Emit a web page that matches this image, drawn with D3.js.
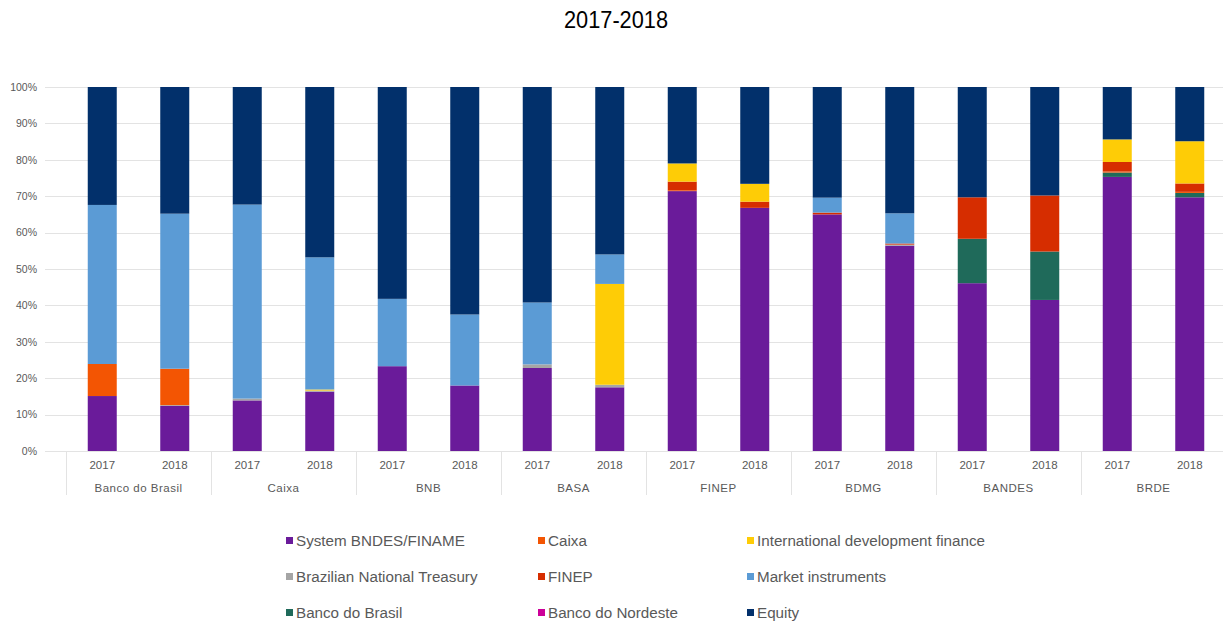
<!DOCTYPE html>
<html>
<head>
<meta charset="utf-8">
<script src="https://cdn.jsdelivr.net/npm/d3@7"></script>
<style>
  html, body { margin: 0; padding: 0; background: #fff; }
  svg { display: block; font-family: "Liberation Sans", Arial, sans-serif; }
</style>
</head>
<body>
<svg id="chart" width="1223" height="623"></svg>
<script>
// ---------- DATA ----------
const groups = ["Banco do Brasil", "Caixa", "BNB", "BASA", "FINEP", "BDMG", "BANDES", "BRDE"];
const years = ["2017", "2018"];
const yTicks = [0, 10, 20, 30, 40, 50, 60, 70, 80, 90, 100];

// values in %, ordered: group by group, 2017 then 2018
const systemBNDES = [15.1, 12.4, 13.9, 16.3, 23.3, 18.0, 22.8, 17.5, 71.4, 66.8, 65.0, 56.4, 46.1, 41.5, 75.3, 69.7];
const treasury    = [0, 0.2, 0.5, 0.3, 0, 0, 1.0, 0.7, 0, 0, 0, 0.3, 0, 0, 0, 0];
const bancoBrasil = [0, 0, 0, 0, 0, 0, 0, 0, 0, 0, 0, 0, 12.2, 13.3, 1.2, 1.2];
const caixa       = [8.8, 10.0, 0, 0, 0, 0, 0, 0, 0.2, 0, 0, 0, 0, 0, 0.3, 0.3];
const finep       = [0, 0, 0, 0, 0, 0, 0, 0, 2.4, 1.7, 0.5, 0.3, 11.4, 15.4, 2.6, 2.3];
const bancoNordeste = [0, 0, 0, 0, 0, 0, 0, 0, 0, 0, 0, 0, 0, 0, 0, 0];
const intlDev     = [0, 0, 0, 0.3, 0, 0, 0, 27.7, 5.0, 4.9, 0, 0, 0, 0, 6.2, 11.6];
const market      = [43.7, 42.6, 53.3, 36.3, 18.5, 19.5, 17.0, 8.1, 0, 0, 4.1, 8.3, 0, 0, 0, 0];
const equity      = [32.4, 34.8, 32.3, 46.8, 58.2, 62.5, 59.2, 46.0, 21.0, 26.6, 30.4, 34.7, 30.3, 29.8, 14.4, 14.9];

// stacking order (bottom to top)
const seriesNames = ["System BNDES/FINAME", "Brazilian National Treasury", "Banco do Brasil", "Caixa", "FINEP",
                     "Banco do Nordeste", "International development finance", "Market instruments", "Equity"];
const seriesValues = [systemBNDES, treasury, bancoBrasil, caixa, finep, bancoNordeste, intlDev, market, equity];
const seriesColors = ["#6a1b9a", "#a5a5a5", "#1f6a5a", "#f35503", "#d62d00", "#cc0099", "#fecc06", "#5b9bd5", "#02306b"];

// legend layout order (rows of three)
const legendOrder = [
  ["System BNDES/FINAME", "Caixa", "International development finance"],
  ["Brazilian National Treasury", "FINEP", "Market instruments"],
  ["Banco do Brasil", "Banco do Nordeste", "Equity"]
];

// ---------- BUILD ROWS ----------
const rows = [];
groups.forEach((g, gi) => {
  years.forEach((yr, yi) => {
    const idx = gi * years.length + yi;
    const row = { group: g, year: yr };
    seriesNames.forEach((s, si) => { row[s] = seriesValues[si][idx]; });
    rows.push(row);
  });
});

// ---------- LAYOUT ----------
const svg = d3.select("#chart");
const plotLeft = 66, plotRight = 1226, plotTop = 87, plotBottom = 451;
const gridLeft = 45;

const x0 = d3.scaleBand().domain(groups).range([plotLeft, plotRight]).paddingInner(0).paddingOuter(0);
const x1 = d3.scaleBand().domain(years).range([0, x0.bandwidth()]).paddingInner(0.6).paddingOuter(0.3);
const y = d3.scaleLinear().domain([0, 100]).range([plotBottom, plotTop]);
const color = d3.scaleOrdinal().domain(seriesNames).range(seriesColors);

// title
svg.append("text")
  .attr("x", 616).attr("y", 28)
  .attr("text-anchor", "middle")
  .attr("font-size", 24)
  .attr("textLength", 104).attr("lengthAdjust", "spacingAndGlyphs")
  .attr("fill", "#000")
  .text("2017-2018");

// gridlines
svg.append("g").selectAll("line").data(yTicks).join("line")
  .attr("x1", gridLeft).attr("x2", plotRight)
  .attr("y1", d => Math.round(y(d)) + 0.5).attr("y2", d => Math.round(y(d)) + 0.5)
  .attr("stroke", "#e3e3e3").attr("stroke-width", 1);

// y axis labels
const yAxis = d3.axisLeft(y).tickValues(yTicks).tickFormat(d => d + "%").tickSize(0).tickPadding(0);
const yg = svg.append("g").attr("transform", `translate(37,0)`).call(yAxis);
yg.select(".domain").remove();
yg.selectAll("text").attr("font-size", 10.5).attr("fill", "#595959")
  .attr("font-family", "'Liberation Sans', Arial, sans-serif");

// bars
const stack = d3.stack().keys(seriesNames);
const stacked = stack(rows);
svg.append("g").selectAll("g").data(stacked).join("g")
  .attr("fill", d => color(d.key))
  .selectAll("rect").data(d => d).join("rect")
  .attr("x", d => x0(d.data.group) + x1(d.data.year))
  .attr("width", x1.bandwidth())
  .attr("y", d => y(d[1]))
  .attr("height", d => Math.max(0, y(d[0]) - y(d[1])));

// category separators
const sepX = groups.map(g => x0(g)).concat([plotRight]);
svg.append("g").selectAll("line").data(sepX).join("line")
  .attr("x1", d => Math.round(d) + 0.5).attr("x2", d => Math.round(d) + 0.5)
  .attr("y1", plotBottom).attr("y2", 495)
  .attr("stroke", "#e3e3e3").attr("stroke-width", 1);

// year labels
svg.append("g").selectAll("text").data(rows).join("text")
  .attr("x", d => x0(d.group) + x1(d.year) + x1.bandwidth() / 2)
  .attr("y", 469)
  .attr("text-anchor", "middle")
  .attr("font-size", 11.5).attr("fill", "#595959")
  .text(d => d.year);

// group labels
svg.append("g").selectAll("text").data(groups).join("text")
  .attr("x", d => x0(d) + x0.bandwidth() / 2)
  .attr("y", 492)
  .attr("text-anchor", "middle")
  .attr("font-size", 11.5).attr("fill", "#595959")
  .attr("letter-spacing", 0.5)
  .text(d => d);

// legend
const legCols = [286, 538, 747];
const legRows = [541, 577, 613];
const legend = svg.append("g");
legendOrder.forEach((row, ri) => {
  row.forEach((name, ci) => {
    const gx = legCols[ci], gy = legRows[ri];
    legend.append("rect")
      .attr("x", gx).attr("y", gy - 4).attr("width", 7).attr("height", 7)
      .attr("fill", color(name));
    legend.append("text")
      .attr("x", gx + 10).attr("y", gy + 5)
      .attr("font-size", 15.2).attr("fill", "#595959")
      .text(name);
  });
});
</script>
</body>
</html>
